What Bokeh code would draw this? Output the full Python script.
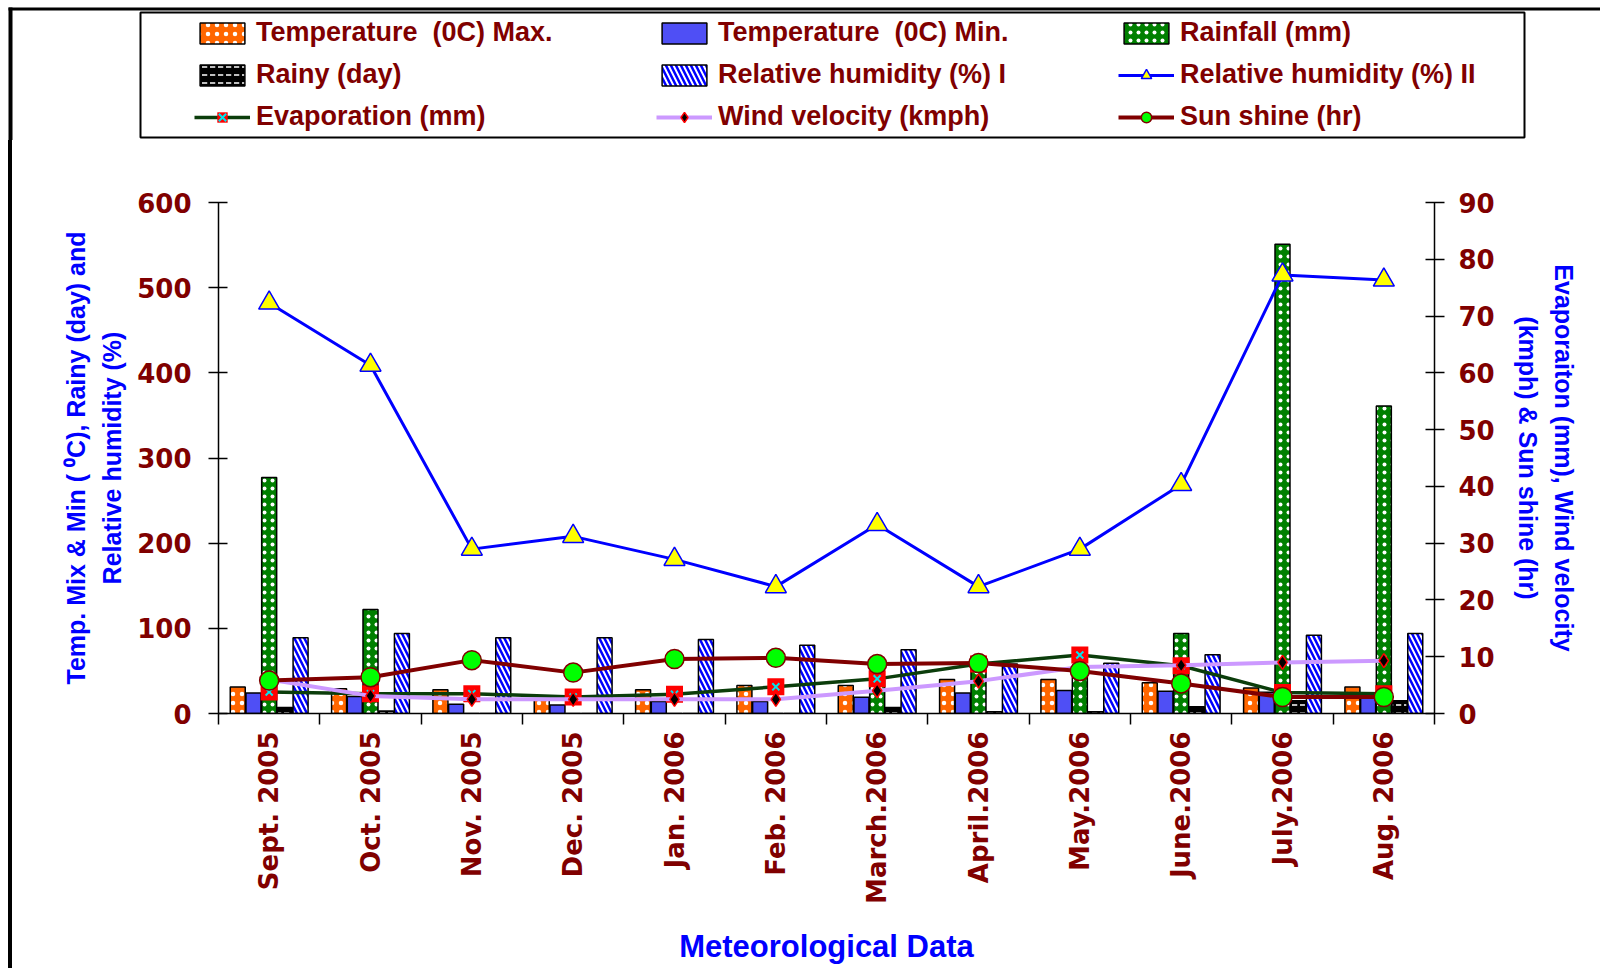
import math
from bokeh.plotting import figure
from bokeh.models import (Range1d, LinearAxis, FixedTicker, ColumnDataSource,
                          Legend, LegendItem, BoxAnnotation)
from bokeh.embed import file_html
from bokeh.resources import INLINE

# ---------------- data ----------------
months = ["Sept. 2005", "Oct. 2005", "Nov. 2005", "Dec. 2005", "Jan. 2006",
          "Feb. 2006", "March.2006", "April.2006", "May.2006", "June.2006",
          "July.2006", "Aug. 2006"]
temp_max = [31, 29, 28, 17, 28, 33, 33, 40, 40, 36, 30, 31]
temp_min = [24, 20, 11, 10, 14, 14, 19, 24, 27, 26, 25, 23]
rainfall = [277, 122, 0, 0, 0, 0, 40, 58, 48, 94, 551, 361]
rainy = [7, 3, 0, 0, 0, 0, 7, 2, 2, 8, 15, 15]
rh1 = [89, 94, 89, 89, 87, 80, 75, 58, 59, 69, 92, 94]
rh2 = [482, 409, 193, 208, 181, 149, 222, 149, 193, 269, 515, 509]
# right axis
evaporation = [3.8, 3.5, 3.5, 2.9, 3.4, 4.7, 6.1, 8.7, 10.3, 8.4, 3.7, 3.5]
wind = [6.0, 3.1, 2.5, 2.5, 2.5, 2.5, 4.0, 5.7, 8.2, 8.5, 9.0, 9.3]
sunshine = [5.8, 6.4, 9.4, 7.2, 9.6, 9.8, 8.7, 8.9, 7.5, 5.3, 2.9, 2.9]

left_ticks = [0, 100, 200, 300, 400, 500, 600]
right_ticks = [0, 10, 20, 30, 40, 50, 60, 70, 80, 90]

legend_labels = ["Temperature  (0C) Max.", "Temperature  (0C) Min.", "Rainfall (mm)",
                 "Rainy (day)", "Relative humidity (%) I", "Relative humidity (%) II",
                 "Evaporation (mm)", "Wind velocity (kmph)", "Sun shine (hr)"]

# ---------------- styling ----------------
DARK_RED = "#800000"
BLUE = "#0000FF"
TICK_FONT = "DejaVu Sans"
LABEL_FONT = "Liberation Sans"

BAR_BASE = dict(line_color="black", line_width=1.5)
ST_TMAX = dict(fill_color="#FF6600", hatch_pattern="dot", hatch_color="white",
               hatch_scale=9, hatch_weight=1, **BAR_BASE)
ST_TMIN = dict(fill_color="#4F4FF5", **BAR_BASE)
ST_RAIN = dict(fill_color="#008000", hatch_pattern="dot", hatch_color="white",
               hatch_scale=8, hatch_weight=1.8, **BAR_BASE)
ST_RAINY = dict(fill_color="black", hatch_pattern="horizontal_dash", hatch_color="white",
                hatch_scale=8, hatch_weight=1.5, **BAR_BASE)
ST_RH1 = dict(fill_color="white", hatch_pattern="left_diagonal_line", hatch_color=BLUE,
              hatch_scale=10, hatch_weight=2.5, **BAR_BASE)

LN_RH2 = dict(line_color=BLUE, line_width=3)
MK_RH2 = dict(marker="triangle", size=21, fill_color="#FFFF00", line_color=BLUE, line_width=1.5)
LN_EVAP = dict(line_color="#0B3D0B", line_width=3.5)
MK_EVAP = dict(marker="square", size=17, fill_color="#FF0000", line_color=None)
MK_EVAP2 = dict(marker="x", size=10, line_color="#00E5EE", line_width=2)
LN_WIND = dict(line_color="#CC99FF", line_width=4)
MK_WIND = dict(marker="diamond", size=14, fill_color="black", line_color="#FF0000", line_width=1.5)
LN_SUN = dict(line_color=DARK_RED, line_width=4)
MK_SUN = dict(marker="circle", size=19, fill_color="#00FF00", line_color=DARK_RED, line_width=1.5)

n = len(months)
centers = [i + 0.5 for i in range(n)]
step = 0.155
bar_w = 0.148

src = ColumnDataSource(dict(
    xc=centers,
    x_tmax=[c - 2 * step for c in centers],
    x_tmin=[c - step for c in centers],
    x_rain=centers,
    x_rainy=[c + step for c in centers],
    x_rh1=[c + 2 * step for c in centers],
    tmax=temp_max, tmin=temp_min, rain=rainfall, rainy=rainy,
    rh1=rh1, rh2=rh2, evap=evaporation, wind=wind, sun=sunshine,
))

W = 1600
TOP_H = 140
MAIN_H = 828
OFF_X = 12   # page margin + frame line on the left of the main chart
BORDER = 4

# ================= legend strip (top) =================
top = figure(width=W, height=TOP_H, x_range=Range1d(0, W), y_range=Range1d(TOP_H, 0),
             x_axis_type=None, y_axis_type=None, output_backend="svg",
             toolbar_location=None, min_border=0, outline_line_color=None,
             background_fill_color="white", border_fill_color="white")
# legend samples: same series, hidden in this strip (only their legend swatches show)
kw = dict(source=src, visible=False)
g = []
g.append([top.vbar(x="x_tmax", top="tmax", width=bar_w, **kw, **ST_TMAX)])
g.append([top.vbar(x="x_tmin", top="tmin", width=bar_w, **kw, **ST_TMIN)])
g.append([top.vbar(x="x_rain", top="rain", width=bar_w, **kw, **ST_RAIN)])
g.append([top.vbar(x="x_rainy", top="rainy", width=bar_w, **kw, **ST_RAINY)])
g.append([top.vbar(x="x_rh1", top="rh1", width=bar_w, **kw, **ST_RH1)])
g.append([top.line(x="xc", y="rh2", **kw, **LN_RH2),
          top.scatter(x="xc", y="rh2", **kw, **MK_RH2)])
g.append([top.line(x="xc", y="evap", **kw, **LN_EVAP),
          top.scatter(x="xc", y="evap", **kw, **MK_EVAP),
          top.scatter(x="xc", y="evap", **kw, **MK_EVAP2)])
g.append([top.line(x="xc", y="wind", **kw, **LN_WIND),
          top.scatter(x="xc", y="wind", **kw, **MK_WIND)])
g.append([top.line(x="xc", y="sun", **kw, **LN_SUN),
          top.scatter(x="xc", y="sun", **kw, **MK_SUN)])

legend = Legend(items=[LegendItem(label=lab, renderers=rs) for lab, rs in zip(legend_labels, g)],
                orientation="horizontal", ncols=3,
                location=(189, 3), margin=0, padding=5, spacing=11,
                glyph_width=56, glyph_height=26, label_standoff=6,
                label_width=389, label_height=31,
                label_text_font=LABEL_FONT, label_text_font_style="bold",
                label_text_font_size="27px", label_text_color=DARK_RED,
                border_line_alpha=0, background_fill_alpha=0, inactive_fill_alpha=0)
top.add_layout(legend)
# legend frame
top.add_layout(BoxAnnotation(left=140, right=1524, top=12, bottom=137,
                             fill_alpha=0, line_color="black", line_alpha=1, line_width=2))
# outer chart frame (top and left edges)
top.add_layout(BoxAnnotation(left=8, right=W, top=7, bottom=10,
                             fill_color="black", fill_alpha=1, line_alpha=0))
top.add_layout(BoxAnnotation(left=8, right=12, top=7, bottom=TOP_H,
                             fill_color="black", fill_alpha=1, line_alpha=0))

# ================= main chart =================
MW = W - 8
CANVAS_W = MW - BORDER
p = figure(width=MW, height=MAIN_H, x_range=Range1d(0, n), y_range=Range1d(0, 600),
           x_axis_type=None, y_axis_type=None, output_backend="svg",
           toolbar_location=None, min_border_left=218 - OFF_X,
           min_border_right=CANVAS_W - (1430 - OFF_X),
           min_border_top=62, min_border_bottom=MAIN_H - 573, outline_line_color=None,
           background_fill_color="white", border_fill_color="white")
p.margin = (0, 0, 0, 8)
p.styles = {"border-left": "4px solid black"}
p.extra_y_ranges = {"right": Range1d(0, 90)}

def style_y(ax):
    ax.axis_line_color = "black"
    ax.axis_line_width = 1.5
    ax.major_tick_line_color = "black"
    ax.major_tick_line_width = 1.5
    ax.major_tick_in = 9
    ax.major_tick_out = 10
    ax.minor_tick_line_color = None
    ax.major_label_text_font = TICK_FONT
    ax.major_label_text_font_style = "bold"
    ax.major_label_text_font_size = "26px"
    ax.major_label_text_color = DARK_RED
    ax.axis_label_text_font = LABEL_FONT
    ax.axis_label_text_font_style = "bold"
    ax.axis_label_text_font_size = "25px"
    ax.axis_label_text_color = BLUE
    ax.axis_label_text_line_height = 1.3

left_axis = LinearAxis(ticker=FixedTicker(ticks=left_ticks),
                       axis_label="Temp. Mix & Min ( \u2070C), Rainy (day) and\nRelative humidity (%)")
style_y(left_axis)
left_axis.major_label_standoff = 17
left_axis.axis_label_standoff = 8
p.add_layout(left_axis, "left")

right_axis = LinearAxis(y_range_name="right", ticker=FixedTicker(ticks=right_ticks),
                        axis_label="Evaporaiton (mm), Wind velocity\n(kmph) & Sun shine (hr)")
style_y(right_axis)
right_axis.major_label_standoff = 14
right_axis.axis_label_standoff = 16
p.add_layout(right_axis, "right")

x_axis = LinearAxis(ticker=FixedTicker(ticks=centers, minor_ticks=list(range(n + 1))),
                    major_label_overrides={c: m for c, m in zip(centers, months)},
                    axis_label="Meteorological Data")
x_axis.axis_line_color = "black"
x_axis.axis_line_width = 1.5
x_axis.major_tick_line_color = None
x_axis.major_tick_in = 0
x_axis.major_tick_out = 0
x_axis.minor_tick_line_color = "black"
x_axis.minor_tick_line_width = 1.5
x_axis.minor_tick_in = 0
x_axis.minor_tick_out = 11
x_axis.major_label_orientation = math.pi / 2
x_axis.major_label_standoff = 7
x_axis.major_label_text_font = TICK_FONT
x_axis.major_label_text_font_style = "bold"
x_axis.major_label_text_font_size = "26px"
x_axis.major_label_text_color = DARK_RED
x_axis.axis_label_text_font = LABEL_FONT
x_axis.axis_label_text_font_style = "bold"
x_axis.axis_label_text_font_size = "31px"
x_axis.axis_label_text_color = BLUE
x_axis.axis_label_standoff = 22
p.add_layout(x_axis, "below")

# bars
common = dict(source=src, width=bar_w, bottom=0)
p.vbar(x="x_tmax", top="tmax", **common, **ST_TMAX)
p.vbar(x="x_tmin", top="tmin", **common, **ST_TMIN)
p.vbar(x="x_rain", top="rain", **common, **ST_RAIN)
p.vbar(x="x_rainy", top="rainy", **common, **ST_RAINY)
p.vbar(x="x_rh1", top="rh1", **common, **ST_RH1)

# lines
p.line(x="xc", y="rh2", source=src, **LN_RH2)
p.scatter(x="xc", y="rh2", source=src, **MK_RH2)
p.line(x="xc", y="evap", source=src, y_range_name="right", **LN_EVAP)
p.scatter(x="xc", y="evap", source=src, y_range_name="right", **MK_EVAP)
p.scatter(x="xc", y="evap", source=src, y_range_name="right", **MK_EVAP2)
p.line(x="xc", y="wind", source=src, y_range_name="right", **LN_WIND)
p.scatter(x="xc", y="wind", source=src, y_range_name="right", **MK_WIND)
p.line(x="xc", y="sun", source=src, y_range_name="right", **LN_SUN)
p.scatter(x="xc", y="sun", source=src, y_range_name="right", **MK_SUN)

open("out.html", "w").write(file_html([top, p], INLINE))
